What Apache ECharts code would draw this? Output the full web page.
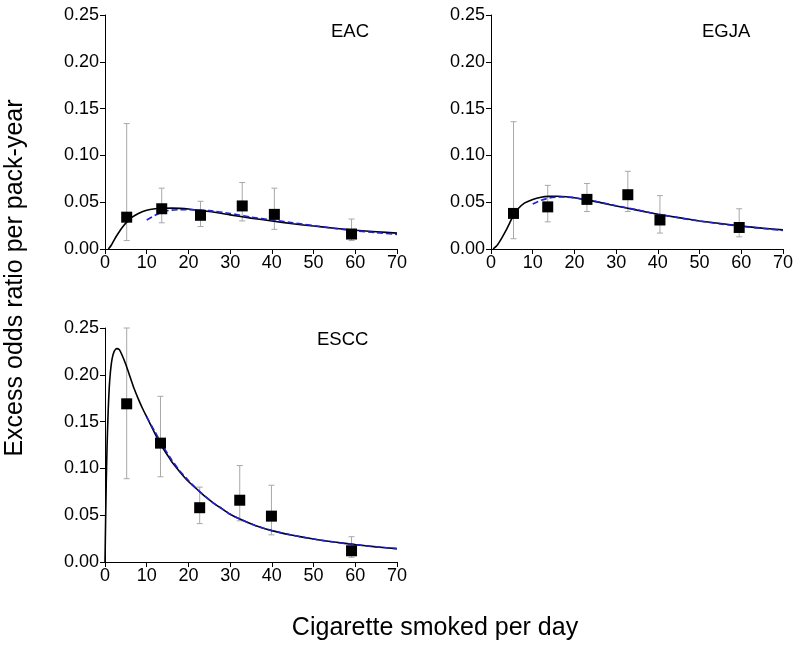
<!DOCTYPE html>
<html>
<head>
<meta charset="utf-8">
<script src="https://cdn.jsdelivr.net/npm/echarts@6/dist/echarts.min.js"></script>
<style>html,body{margin:0;padding:0;background:#fff;}#c{width:800px;height:651px;}</style>
</head>
<body>
<div id="c"></div>
<script>
// ---- tick labels ----
const xTicks = [0, 10, 20, 30, 40, 50, 60, 70];
const yTickLabels = ['0.00', '0.05', '0.10', '0.15', '0.20', '0.25'];
const panelNames = ['EAC', 'EGJA', 'ESCC'];

// ---- observed points (x, estimate, lower CI, upper CI) ----
const eacX = [5.2, 13.6, 22.9, 32.9, 40.6, 59.1];
const eacY = [0.034, 0.043, 0.036, 0.046, 0.037, 0.016];
const eacLow = [0.009, 0.028, 0.024, 0.030, 0.021, 0.009];
const eacHigh = [0.134, 0.065, 0.051, 0.071, 0.065, 0.032];

const egjaX = [5.4, 13.6, 23.0, 32.8, 40.5, 59.5];
const egjaY = [0.038, 0.045, 0.053, 0.058, 0.031, 0.023];
const egjaLow = [0.011, 0.029, 0.040, 0.040, 0.017, 0.013];
const egjaHigh = [0.136, 0.068, 0.070, 0.083, 0.057, 0.043];

const esccX = [5.2, 13.3, 22.7, 32.3, 39.9, 59.1];
const esccY = [0.169, 0.127, 0.058, 0.066, 0.049, 0.012];
const esccLow = [0.089, 0.091, 0.041, 0.044, 0.029, 0.005];
const esccHigh = [0.250, 0.177, 0.080, 0.103, 0.082, 0.027];

// ---- fitted curves (solid black) ----
const eacFitX = [0.8, 1.5, 2.5, 3.5, 4.5, 5.5, 6.5, 8, 10, 12, 14, 16, 18, 20, 25, 30, 35, 40, 45, 50, 55, 60, 65, 70];
const eacFitY = [0, 0.004, 0.012, 0.019, 0.025, 0.030, 0.034, 0.038, 0.0415, 0.043, 0.0436, 0.0437, 0.0434, 0.0427, 0.040, 0.0365, 0.033, 0.030, 0.027, 0.0245, 0.0222, 0.020, 0.0185, 0.017];

const egjaFitX = [0.5, 1.5, 2.5, 3.5, 4.5, 5.5, 6.5, 8, 10, 12, 14, 16, 18, 20, 23, 26, 30, 35, 40, 45, 50, 55, 60, 65, 70];
const egjaFitY = [0, 0.004, 0.011, 0.019, 0.028, 0.037, 0.043, 0.049, 0.053, 0.0553, 0.0562, 0.0563, 0.0558, 0.0548, 0.0525, 0.0498, 0.046, 0.0415, 0.0372, 0.0335, 0.030, 0.0272, 0.0245, 0.0223, 0.0204];

const esccFitX = [0, 0.15, 0.3, 0.5, 0.75, 1.0, 1.3, 1.7, 2.2, 2.8, 3.4, 4, 5, 6, 7, 8, 9, 10, 11, 12, 13, 14, 15, 16, 18, 20, 22, 24, 26, 28, 30, 33, 36, 40, 45, 50, 55, 60, 65, 70];
const esccFitY = [0, 0.045, 0.085, 0.125, 0.16, 0.185, 0.203, 0.217, 0.225, 0.228, 0.227, 0.222, 0.211, 0.198, 0.185, 0.174, 0.164, 0.155, 0.146, 0.137, 0.129, 0.121, 0.114, 0.107, 0.096, 0.086, 0.078, 0.070, 0.063, 0.057, 0.051, 0.0445, 0.039, 0.0335, 0.0285, 0.0245, 0.0213, 0.0186, 0.0162, 0.0143];

// ---- alternative fit (dashed blue) ----
const eacAltX = [10, 12, 14, 16, 18, 20, 25, 30, 35, 40, 45, 50, 55, 60, 65, 70];
const eacAltY = [0.031, 0.036, 0.040, 0.0415, 0.042, 0.042, 0.041, 0.038, 0.034, 0.031, 0.028, 0.025, 0.022, 0.0195, 0.0175, 0.0155];

const egjaAltX = [10, 12, 14, 16, 18, 20, 25, 30, 35, 40, 45, 50, 55, 60, 65, 70];
const egjaAltY = [0.048, 0.052, 0.0545, 0.0555, 0.0555, 0.0548, 0.051, 0.0463, 0.0418, 0.0372, 0.0333, 0.0298, 0.0268, 0.0242, 0.022, 0.0198];

const esccAltX = [10, 12, 14, 16, 18, 20, 22, 24, 26, 28, 30, 33, 36, 40, 45, 50, 55, 60, 65, 70];
const esccAltY = [0.155, 0.139, 0.123, 0.109, 0.097, 0.087, 0.078, 0.070, 0.063, 0.057, 0.051, 0.0445, 0.039, 0.0335, 0.0285, 0.0245, 0.0212, 0.0185, 0.0161, 0.0142];

const FONT = '"Liberation Sans", Arial, Helvetica, sans-serif';
const zip = (a, b) => a.map((v, i) => [v, b[i]]);
const zip3 = (a, b, c) => a.map((v, i) => [v, b[i], c[i]]);

const panels = [
  { pts: zip(eacX, eacY), err: zip3(eacX, eacLow, eacHigh), fit: zip(eacFitX, eacFitY), alt: zip(eacAltX, eacAltY) },
  { pts: zip(egjaX, egjaY), err: zip3(egjaX, egjaLow, egjaHigh), fit: zip(egjaFitX, egjaFitY), alt: zip(egjaAltX, egjaAltY) },
  { pts: zip(esccX, esccY), err: zip3(esccX, esccLow, esccHigh), fit: zip(esccFitX, esccFitY), alt: zip(esccAltX, esccAltY) }
];

const grids = [
  { left: 105, top: 15, width: 292, height: 234 },
  { left: 491, top: 15, width: 292, height: 234 },
  { left: 105, top: 328, width: 292, height: 234 }
];

const axisLine = { show: true, onZero: false, lineStyle: { color: '#000', width: 1 } };
const axisTick = { show: true, length: 5, lineStyle: { color: '#000', width: 1 } };

const xAxes = grids.map((g, i) => ({
  type: 'value', gridIndex: i, min: 0, max: 70, interval: 10,
  axisLine, axisTick, splitLine: { show: false },
  axisLabel: { margin: 5, fontSize: 18, color: '#000', fontFamily: FONT,
    formatter: v => (xTicks.indexOf(v) >= 0 ? String(v) : '') }
}));
const yAxes = grids.map((g, i) => ({
  type: 'value', gridIndex: i, min: 0, max: 0.25, interval: 0.05,
  axisLine, axisTick, splitLine: { show: false },
  axisLabel: { margin: 6, fontSize: 18, color: '#000', fontFamily: FONT,
    formatter: v => yTickLabels[Math.round(v / 0.05)] }
}));

const series = [];
panels.forEach((p, i) => {
  series.push({
    type: 'custom', xAxisIndex: i, yAxisIndex: i, z: 1,
    data: p.err, encode: { x: 0, y: [1, 2] }, clip: false,
    renderItem: (params, api) => {
      const x = api.value(0);
      const lo = api.coord([x, api.value(1)]);
      const hi = api.coord([x, api.value(2)]);
      const st = { stroke: '#a8a8a8', lineWidth: 1 };
      const c = 3;
      return { type: 'group', children: [
        { type: 'line', shape: { x1: lo[0], y1: lo[1], x2: hi[0], y2: hi[1] }, style: st },
        { type: 'line', shape: { x1: lo[0] - c, y1: lo[1], x2: lo[0] + c, y2: lo[1] }, style: st },
        { type: 'line', shape: { x1: hi[0] - c, y1: hi[1], x2: hi[0] + c, y2: hi[1] }, style: st }
      ] };
    }
  });
  series.push({
    type: 'line', xAxisIndex: i, yAxisIndex: i, z: 3, data: p.alt,
    showSymbol: false, symbol: 'none', smooth: 0.2,
    lineStyle: { color: '#1f1fe0', width: 1.6, type: [6, 3] }, silent: true
  });
  series.push({
    type: 'line', xAxisIndex: i, yAxisIndex: i, z: 2, data: p.fit,
    showSymbol: false, symbol: 'none', smooth: 0.2,
    lineStyle: { color: '#000', width: 1.6 }, silent: true
  });
  series.push({
    type: 'scatter', xAxisIndex: i, yAxisIndex: i, z: 4, data: p.pts,
    symbol: 'rect', symbolSize: 11, itemStyle: { color: '#000', opacity: 1 }, silent: true
  });
});

const labelPos = [[331, 32], [702, 32], [317, 340]];
const graphic = panelNames.map((n, i) => ({
  type: 'text', x: labelPos[i][0], y: labelPos[i][1],
  style: { text: n, fontSize: 18.5, fontFamily: FONT, fill: '#000', align: 'left', verticalAlign: 'middle' }
}));
graphic.push({
  type: 'text', x: 15, y: 278, rotation: Math.PI / 2,
  style: { text: 'Excess odds ratio per pack-year', fontSize: 25, fontFamily: FONT, fill: '#000', align: 'center', verticalAlign: 'middle' }
});
graphic.push({
  type: 'text', x: 435, y: 628,
  style: { text: 'Cigarette smoked per day', fontSize: 25, fontFamily: FONT, fill: '#000', align: 'center', verticalAlign: 'middle' }
});

const chart = echarts.init(document.getElementById('c'), null, { renderer: 'canvas' });
chart.setOption({
  animation: false,
  backgroundColor: '#fff',
  grid: grids,
  xAxis: xAxes,
  yAxis: yAxes,
  series,
  graphic
});
</script>
</body>
</html>
